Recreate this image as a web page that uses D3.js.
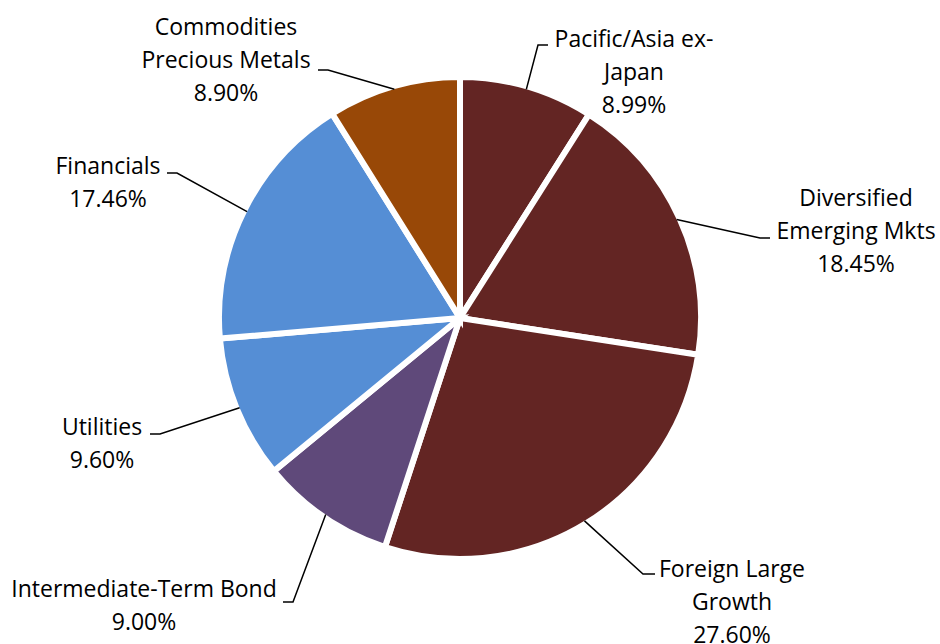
<!DOCTYPE html>
<html>
<head>
<meta charset="utf-8">
<script src="https://cdn.jsdelivr.net/npm/d3@7"></script>
<style>
  body { margin: 0; background: #fff; }
  text { font-family: "Open Sans", sans-serif; font-size: 23px; fill: #000; }
</style>
</head>
<body>
<div id="chart"></div>
<script>
// slice data, clockwise from 12 o'clock
const names = [
    ["Pacific/Asia ex-", "Japan"],
    ["Diversified", "Emerging Mkts"],
    ["Foreign Large", "Growth"],
    ["Intermediate-Term Bond"],
    ["Utilities"],
    ["Financials"],
    ["Commodities", "Precious Metals"]
];
const values = [8.99, 18.45, 27.60, 9.00, 9.60, 17.46, 8.90];
const colors = ["#632523", "#632523", "#632523", "#5F497A", "#558ED5", "#558ED5", "#984807"];

// label placement (Excel best fit), relative to the pie centre:
// text centre x, first baseline y, leader elbow x/y, horizontal tick length
const labelLayout = [
    { tx: 174, ty: -271, ex: 78, ey: -273, h: 10 },
    { tx: 396, ty: -112, ex: 300, ey: -80, h: 10 },
    { tx: 272, ty: 259, ex: 183, ey: 256, h: 12 },
    { tx: -316, ty: 279, ex: -167, ey: 284, h: -10 },
    { tx: -358, ty: 117, ex: -300, ey: 116, h: -10 },
    { tx: -352, ty: -144, ex: -283, ey: -145, h: -10 },
    { tx: -234, ty: -283, ex: -132, ey: -248, h: -10 }
];

const width = 940, height = 644;
const cx = 460, cy = 318, radius = 241;
const lineGap = 33;

const svg = d3.select("#chart")
    .append("svg")
    .attr("width", width)
    .attr("height", height)
    .append("g")
    .attr("transform", `translate(${cx},${cy})`);

const pie = d3.pie().sort(null).value(d => d);
const arcs = pie(values);

const arc = d3.arc().innerRadius(0).outerRadius(radius);
const edge = d3.arc().innerRadius(radius - 3).outerRadius(radius - 3);

svg.selectAll(".slice")
    .data(arcs)
    .enter()
    .append("path")
    .attr("class", "slice")
    .attr("d", arc)
    .attr("fill", (d, i) => colors[i])
    .attr("stroke", "#fff")
    .attr("stroke-width", 6)
    .attr("stroke-linejoin", "miter");

// leader lines
svg.selectAll(".leader")
    .data(arcs)
    .enter()
    .append("polyline")
    .attr("class", "leader")
    .attr("fill", "none")
    .attr("stroke", "#000")
    .attr("stroke-width", 1.5)
    .attr("points", (d, i) => {
        const p = edge.centroid(d);
        const L = labelLayout[i];
        return [p, [L.ex, L.ey], [L.ex + L.h, L.ey]].map(q => q.join(",")).join(" ");
    });

// labels
const labels = svg.selectAll(".label")
    .data(arcs)
    .enter()
    .append("text")
    .attr("class", "label")
    .attr("text-anchor", "middle");

labels.each(function(d, i) {
    const L = labelLayout[i];
    const lines = names[i].concat([values[i].toFixed(2) + "%"]);
    d3.select(this).selectAll("tspan")
        .data(lines)
        .enter()
        .append("tspan")
        .attr("x", L.tx)
        .attr("y", (t, j) => L.ty + j * lineGap)
        .text(t => t);
});
</script>
</body>
</html>
